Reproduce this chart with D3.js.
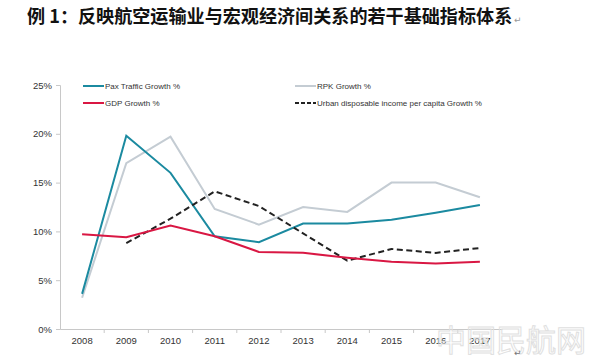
<!DOCTYPE html>
<html>
<head>
<meta charset="utf-8">
<script src="https://cdn.jsdelivr.net/npm/d3@7"></script>
<style>
  body { margin: 0; background: #fff; }
  svg { display: block; }
</style>
</head>
<body>
<div id="chart"></div>
<script>
// years on the x axis
var years = ['2008','2009','2010','2011','2012','2013','2014','2015','2016','2017'];
// growth rates in %
var paxGrowth = [3.6, 19.8, 16.0, 9.5, 8.9, 10.8, 10.8, 11.2, 11.9, 12.7];
var rpkGrowth = [3.2, 17.0, 19.7, 12.3, 10.7, 12.5, 12.0, 15.0, 15.0, 13.5];
var gdpGrowth = [9.7, 9.4, 10.6, 9.5, 7.9, 7.8, 7.3, 6.9, 6.7, 6.9];
var incomeGrowth = [null, 8.8, 11.3, 14.1, 12.6, 9.8, 7.0, 8.2, 7.8, 8.3];
var yTicks = [0, 5, 10, 15, 20, 25];

var W = 600, H = 362;
var svg = d3.select('#chart').append('svg')
  .attr('width', W).attr('height', H);

// title
svg.append('text')
  .attr('x', 27).attr('y', 23)
  .style('font-family', '"Noto Sans CJK SC", sans-serif')
  .style('font-weight', 'bold')
  .style('font-size', '18.1px')
  .attr('fill', '#111')
  .text('例 1：反映航空运输业与宏观经济间关系的若干基础指标体系');
svg.append('text')
  .attr('x', 514).attr('y', 23)
  .style('font-family', '"DejaVu Sans", sans-serif')
  .style('font-size', '9px')
  .attr('fill', '#999')
  .text('↵');

var x = d3.scaleBand().domain(years).range([60, 502]);
var y = d3.scaleLinear().domain([0, 25]).range([329, 85]);

var font = '"Liberation Sans", Arial, sans-serif';

// y axis
var yAxis = svg.append('g')
  .attr('transform', 'translate(60,0)')
  .call(d3.axisLeft(y).tickValues(yTicks).tickSize(4).tickPadding(4)
    .tickFormat(function(d){ return d + '%'; }));
yAxis.selectAll('path, line').attr('stroke', '#c8c8c8');
yAxis.selectAll('text').style('font-family', font).style('font-size', '9.5px').attr('fill', '#333');

// x axis
var xAxis = svg.append('g')
  .attr('transform', 'translate(0,329)')
  .call(d3.axisBottom(x).tickSize(0).tickPadding(8));
xAxis.select('path').attr('stroke', '#c8c8c8');
xAxis.selectAll('text').style('font-family', font).style('font-size', '9.5px').attr('fill', '#333');
// category separators
svg.append('g').selectAll('line')
  .data(years.slice(1))
  .enter().append('line')
    .attr('x1', function(d){ return x(d); })
    .attr('x2', function(d){ return x(d); })
    .attr('y1', 329).attr('y2', 333)
    .attr('stroke', '#c8c8c8');

var series = [
  { name: 'RPK Growth %', values: rpkGrowth, color: '#c4ccd3', dash: null },
  { name: 'Pax Traffic Growth %', values: paxGrowth, color: '#1b8aa0', dash: null },
  { name: 'Urban disposable income per capita Growth %', values: incomeGrowth, color: '#222', dash: '6,3.5' },
  { name: 'GDP Growth %', values: gdpGrowth, color: '#d91743', dash: null }
];

var line = d3.line()
  .defined(function(d){ return d != null; })
  .x(function(d, i){ return x(years[i]) + x.bandwidth() / 2; })
  .y(function(d){ return y(d); });

svg.append('g').selectAll('path')
  .data(series)
  .enter().append('path')
    .attr('d', function(s){ return line(s.values); })
    .attr('fill', 'none')
    .attr('stroke', function(s){ return s.color; })
    .attr('stroke-width', 2)
    .attr('stroke-dasharray', function(s){ return s.dash; });

// legend
var legend = [
  { s: series[1], x: 83, y: 86 },
  { s: series[3], x: 83, y: 103 },
  { s: series[0], x: 295, y: 86 },
  { s: series[2], x: 295, y: 103 }
];
var lg = svg.append('g').selectAll('g')
  .data(legend)
  .enter().append('g')
    .attr('transform', function(d){ return 'translate(' + d.x + ',' + d.y + ')'; });
lg.append('line')
  .attr('x1', 0).attr('x2', 21)
  .attr('stroke', function(d){ return d.s.color; })
  .attr('stroke-width', 2)
  .attr('stroke-dasharray', function(d){ return d.s.dash ? '4,2' : null; });
lg.append('text')
  .attr('x', 22).attr('y', 3)
  .style('font-family', font).style('font-size', '8px')
  .attr('fill', '#333')
  .text(function(d){ return d.s.name; });

// watermark
svg.append('text')
  .attr('x', 436).attr('y', 351)
  .style('font-family', '"Noto Sans CJK SC", sans-serif')
  .style('font-size', '30px')
  .attr('fill', 'none')
  .attr('stroke', '#e0e0e0')
  .attr('stroke-width', 1)
  .text('中国民航网');
svg.append('text')
  .attr('x', 514).attr('y', 356)
  .style('font-family', '"DejaVu Sans", sans-serif')
  .style('font-size', '9px')
  .attr('fill', '#777')
  .text('↵');
</script>
</body>
</html>
